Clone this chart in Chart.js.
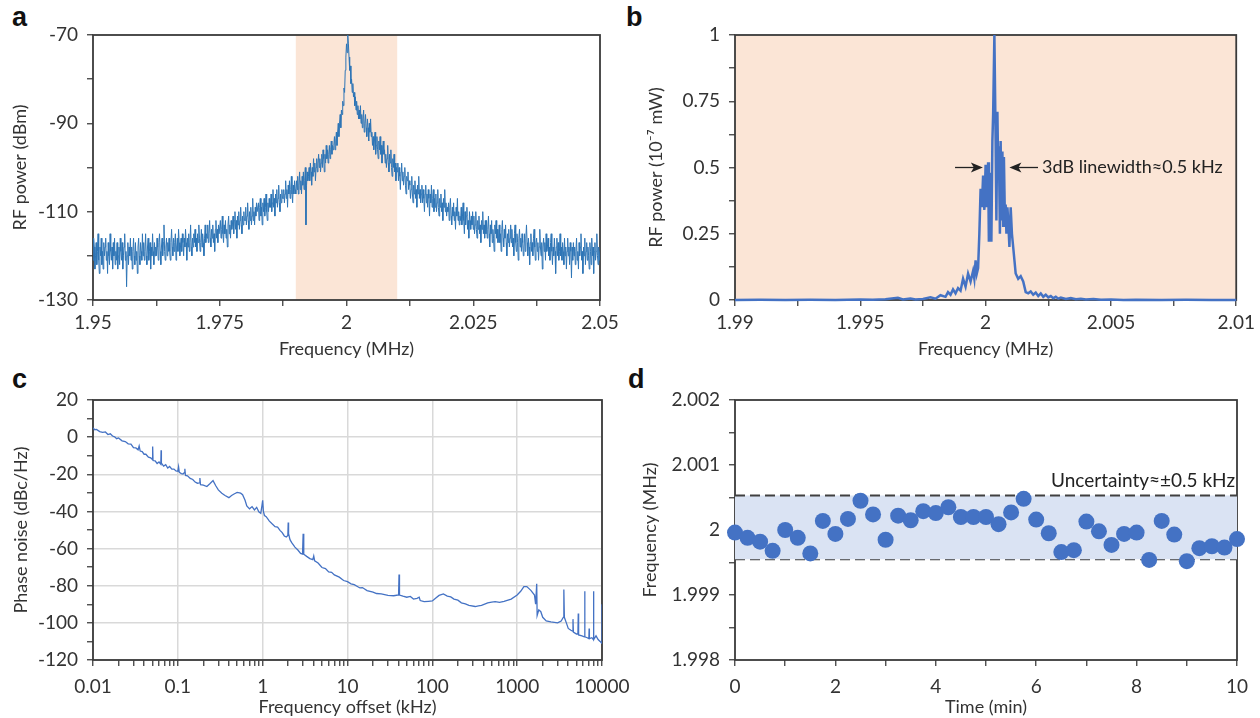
<!DOCTYPE html>
<html>
<head>
<meta charset="utf-8">
<script src="https://cdn.jsdelivr.net/npm/chart.js@4/dist/chart.umd.min.js"></script>
<style>
body{margin:0;background:#fff;width:1260px;height:718px;position:relative;overflow:hidden}
canvas{position:absolute}
.tag{position:absolute;font:bold 27px "Liberation Sans",Arial,sans-serif;line-height:27px;color:#111}
</style>
</head>
<body>
<div class="tag" style="left:12px;top:4px">a</div>
<div class="tag" style="left:626px;top:4px">b</div>
<div class="tag" style="left:12px;top:366px">c</div>
<div class="tag" style="left:628px;top:366px">d</div>
<canvas id="chartA" width="640" height="360" style="left:0;top:0"></canvas>
<canvas id="chartB" width="640" height="360" style="left:620px;top:0"></canvas>
<canvas id="chartC" width="640" height="358" style="left:0;top:360px"></canvas>
<canvas id="chartD" width="640" height="358" style="left:620px;top:360px"></canvas>
<script>
// ---- panel a : RF spectrum in dBm, 1.95 - 2.05 MHz, one point every 0.125 kHz
var freqAStart = 1.95, freqAStep = 0.000125;
var powerA = [
 -121,-116,-118,-123,-120,-117,-122,-119,-115,-121,-124,-118,-120,-116,-122,-119,-123,-117,-120,-118,
 -116,-121,-119,-124,-117,-120,-122,-115,-119,-121,-118,-123,-117,-120,-116,-122,-119,-121,-117,-123,
 -120,-118,-122,-116,-119,-121,-117,-123,-120,-118,-115,-121,-119,-127,-120,-117,-122,-118,-120,-116,
 -121,-118,-123,-119,-116,-120,-122,-117,-121,-119,-124,-118,-116,-120,-122,-117,-119,-121,-115,-120,
 -117,-121,-119,-115,-120,-122,-118,-116,-121,-119,-117,-123,-118,-120,-115,-119,-122,-117,-120,-118,
 -120,-116,-118,-121,-117,-115,-119,-122,-118,-116,-120,-117,-113,-119,-121,-118,-116,-120,-117,-119,
 -116,-119,-121,-117,-114,-118,-120,-116,-119,-117,-115,-121,-118,-116,-119,-114,-117,-120,-118,-116,
 -119,-115,-117,-120,-116,-118,-114,-117,-121,-116,-118,-115,-119,-117,-113,-118,-120,-116,-118,-115,
 -117,-114,-118,-116,-119,-115,-117,-113,-116,-119,-117,-114,-118,-115,-117,-120,-116,-113,-117,-115,
 -116,-113,-117,-115,-112,-116,-118,-114,-116,-113,-117,-115,-119,-114,-112,-116,-114,-117,-113,-115,
 -115,-112,-116,-114,-111,-115,-117,-113,-115,-112,-116,-114,-118,-113,-111,-115,-113,-116,-112,-114,
 -113,-111,-115,-112,-110,-114,-112,-116,-111,-113,-110,-114,-112,-109,-113,-115,-111,-113,-110,-112,
 -112,-109,-113,-111,-108,-112,-114,-110,-112,-109,-113,-111,-107,-112,-110,-113,-109,-111,-108,-110,
 -110,-108,-112,-109,-107,-111,-109,-113,-108,-110,-107,-111,-109,-106,-110,-112,-108,-110,-107,-109,
 -109,-106,-110,-108,-105,-109,-107,-111,-106,-108,-105,-109,-107,-104,-108,-110,-106,-108,-105,-107,
 -107,-105,-108,-106,-103,-107,-105,-109,-104,-106,-103,-107,-105,-102,-106,-108,-104,-106,-103,-105,
 -106,-103,-105,-102,-106,-104,-101,-105,-103,-106,-102,-104,-101,-105,-103,-100,-113,-104,-101,-103,
 -102,-100,-103,-99,-101,-104,-100,-102,-98,-101,-99,-103,-100,-98,-101,-99,-97,-100,-98,-101,
 -99,-97,-100,-96,-98,-101,-97,-99,-95,-98,-96,-99,-97,-95,-98,-96,-94,-97,-95,-96,
 -95,-93,-96,-94,-92,-95,-92,-90,-93,-90,-88,-91,-87,-88,-85,-86,-82,-83,-78,-75,
 -72,-74,-70,-72,-75,-78,-77,-81,-80,-83,-81,-84,-83,-86,-84,-87,-85,-88,-86,-89,
 -87,-89,-86,-90,-88,-91,-89,-87,-92,-90,-88,-91,-93,-89,-91,-94,-90,-92,-89,-93,
 -92,-95,-93,-96,-94,-92,-97,-95,-93,-96,-98,-94,-96,-93,-97,-95,-99,-96,-94,-97,
 -96,-99,-97,-100,-98,-95,-99,-101,-97,-99,-96,-100,-102,-98,-100,-97,-101,-99,-103,-100,
 -101,-99,-103,-100,-102,-105,-101,-99,-103,-101,-104,-102,-100,-104,-106,-102,-103,-101,-105,-103,
 -104,-107,-105,-102,-106,-108,-104,-106,-103,-107,-105,-109,-104,-106,-102,-107,-105,-108,-106,-104,
 -108,-105,-107,-110,-106,-104,-108,-106,-109,-105,-107,-111,-106,-108,-104,-109,-107,-105,-110,-107,
 -109,-106,-110,-108,-105,-109,-111,-107,-109,-106,-110,-108,-112,-107,-109,-105,-110,-108,-111,-109,
 -110,-108,-112,-109,-107,-111,-113,-109,-111,-108,-112,-110,-114,-109,-111,-107,-112,-110,-113,-111,
 -112,-109,-113,-111,-108,-112,-115,-110,-113,-111,-109,-114,-112,-116,-110,-112,-114,-111,-113,-110,
 -114,-111,-115,-113,-110,-114,-116,-112,-114,-111,-115,-113,-117,-112,-114,-110,-115,-113,-116,-112,
 -115,-112,-116,-114,-111,-115,-118,-113,-115,-112,-117,-114,-116,-119,-113,-115,-112,-116,-114,-117,
 -116,-113,-117,-115,-119,-114,-112,-116,-118,-114,-116,-113,-117,-120,-115,-117,-114,-118,-116,-113,
 -117,-114,-118,-116,-120,-115,-113,-117,-119,-115,-117,-121,-116,-114,-118,-116,-119,-115,-117,-120,
 -118,-115,-119,-116,-113,-117,-120,-116,-118,-122,-117,-115,-119,-117,-120,-116,-114,-118,-121,-117,
 -116,-119,-117,-121,-118,-114,-118,-120,-117,-123,-118,-116,-119,-117,-121,-115,-119,-118,-116,-120,
 -118,-121,-117,-115,-119,-122,-118,-120,-116,-119,-124,-118,-116,-120,-117,-121,-119,-115,-120,-118,
 -121,-117,-119,-122,-116,-120,-118,-123,-119,-116,-120,-118,-122,-117,-119,-125,-118,-121,-117,-120,
 -118,-122,-119,-116,-121,-119,-123,-117,-120,-118,-115,-121,-119,-124,-118,-120,-116,-122,-119,-117,
 -121,-118,-120,-123,-117,-119,-122,-116,-120,-118,-124,-119,-117,-121,-119,-115,-120,-122,-118,-121,
 -119
];
var bandA = [1.99, 2.01];
var aXTicks = [1.95, 1.9625, 1.975, 1.9875, 2, 2.0125, 2.025, 2.0375, 2.05];
var aXLabels = ['1.95', '', '1.975', '', '2', '', '2.025', '', '2.05'];
var aYTicks = [-130, -120, -110, -100, -90, -80, -70];
var aYLabels = ['-130', '', '-110', '', '-90', '', '-70'];

// ---- panel b : linear RF power (1e-7 mW), [frequency MHz, power]
var spectrumB = [
 [1.99,0],[1.991,0.001],[1.992,0],[1.993,0.001],[1.994,0],[1.995,0.002],[1.9955,0.001],[1.996,0.003],
 [1.9965,0.008],[1.9967,0.002],[1.997,0.006],[1.9972,0.002],[1.9975,0.004],[1.9978,0.01],[1.998,0.005],
 [1.9982,0.018],[1.9984,0.012],[1.9985,0.03],[1.9986,0.02],[1.9987,0.04],[1.9988,0.025],[1.9989,0.045],
 [1.999,0.035],[1.9991,0.08],[1.9992,0.05],[1.9993,0.1],[1.9994,0.07],[1.9995,0.11],[1.99955,0.08],
 [1.9996,0.15],[1.99965,0.1],[1.9997,0.12],[1.99975,0.25],[1.9998,0.42],[1.99985,0.35],[1.9999,0.47],
 [1.99995,0.34],[2.0,0.51],[2.00005,0.35],[2.0001,0.52],[2.00013,0.22],[2.00017,0.48],[2.0002,0.35],
 [2.00023,0.22],[2.00027,0.6],[2.0003,0.7],[2.00035,1.0],[2.0004,0.6],[2.00043,0.3],[2.00047,0.71],
 [2.0005,0.5],[2.00053,0.58],[2.00057,0.25],[2.0006,0.6],[2.00063,0.3],[2.00067,0.56],[2.0007,0.28],
 [2.00073,0.54],[2.00077,0.3],[2.0008,0.36],[2.00083,0.25],[2.00087,0.35],[2.0009,0.3],[2.00095,0.2],
 [2.001,0.35],[2.00105,0.25],[2.0011,0.2],[2.0012,0.1],[2.0013,0.08],[2.0014,0.09],[2.0015,0.07],
 [2.0016,0.03],[2.0017,0.025],[2.0018,0.032],[2.0019,0.02],[2.002,0.028],[2.0021,0.015],[2.0022,0.025],
 [2.0023,0.012],[2.0024,0.02],[2.0025,0.01],[2.0026,0.015],[2.0027,0.007],[2.0028,0.012],[2.0029,0.005],
 [2.003,0.009],[2.0032,0.004],[2.0034,0.007],[2.0036,0.003],[2.0038,0.005],[2.004,0.002],[2.0043,0.004],
 [2.0046,0.001],[2.005,0.002],[2.0055,0],[2.006,0.001],[2.007,0],[2.008,0.001],[2.009,0],[2.01,0]
];
var bXTicks = [1.99, 1.9925, 1.995, 1.9975, 2, 2.0025, 2.005, 2.0075, 2.01];
var bXLabels = ['1.99', '', '1.995', '', '2', '', '2.005', '', '2.01'];
var bYTicks = [0, 0.125, 0.25, 0.375, 0.5, 0.625, 0.75, 0.875, 1];
var bYLabels = ['0', '', '0.25', '', '0.5', '', '0.75', '', '1'];
// arrows: [from, to, level]
var bArrows = [[1.99878, 1.99989, 0.5], [2.00209, 2.00095, 0.5]];
var bNote = {text: '3dB linewidth\u22480.5 kHz', x: 2.00225, y: 0.5, align: 'left', size: 18};

// ---- panel c : phase noise, [offset kHz, dBc/Hz]
var phaseNoiseC = [
 [0.01,5],[0.0105,4],[0.011,4.2],[0.012,3],[0.013,2.6],[0.014,2.8],[0.015,1.4],[0.016,1.8],[0.017,0.6],
 [0.018,0.2],[0.019,-0.8],[0.02,-0.4],[0.022,-2],[0.024,-2.4],[0.026,-3.6],[0.028,-3.8],[0.03,-5.6],
 [0.032,-5.8],[0.034,-6.8],[0.035,-4.8],[0.036,-7.5],[0.038,-7.8],[0.04,-9.2],[0.042,-9.2],[0.045,-10.8],
 [0.048,-11.2],[0.05,-12],[0.0505,-5],[0.051,-12.6],[0.054,-12.8],[0.057,-14.2],[0.06,-13.4],[0.063,-14.6],
 [0.0635,-7],[0.064,-14],[0.068,-15.6],[0.072,-14.8],[0.076,-16.6],[0.08,-15.8],[0.085,-17.2],[0.09,-17.2],
 [0.095,-18.2],[0.1,-18.4],[0.102,-16],[0.104,-19],[0.11,-19.6],[0.115,-19.8],[0.12,-19],[0.121,-17],
 [0.123,-20.6],[0.13,-20.8],[0.14,-22.2],[0.15,-22.8],[0.16,-24.2],[0.17,-24.8],[0.18,-24.6],[0.182,-22],
 [0.185,-25.6],[0.2,-25.8],[0.22,-26.6],[0.24,-25],[0.26,-23.4],[0.28,-26.2],[0.3,-28.4],[0.33,-30.2],
 [0.36,-31.4],[0.4,-32.6],[0.43,-31.4],[0.46,-30.6],[0.5,-29.8],[0.55,-30.2],[0.58,-31],[0.62,-34],
 [0.65,-37],[0.7,-38.6],[0.75,-37.4],[0.8,-39.2],[0.85,-37.8],[0.9,-40.2],[0.95,-41],[0.98,-37],[1,-34],
 [1.02,-40],[1.05,-42.2],[1.1,-42.8],[1.2,-45.2],[1.3,-46.8],[1.4,-48.2],[1.5,-48.4],[1.6,-50.2],
 [1.7,-51.4],[1.8,-53.2],[1.9,-53.8],[1.98,-53],[2,-46],[2.02,-52],[2.1,-55.2],[2.2,-56.8],[2.4,-59.2],
 [2.6,-60.8],[2.8,-62.6],[2.95,-63],[3,-52],[3.05,-63],[3.3,-64.2],[3.6,-65.4],[3.9,-66],[4,-64],
 [4.1,-66.6],[4.5,-67.8],[5,-70.2],[5.5,-70.8],[6,-72.6],[6.5,-72.8],[7,-74.2],[8,-75.4],[9,-77.2],
 [10,-77.8],[11,-79],[12,-79.4],[14,-81.2],[15,-81],[17,-82.6],[20,-83.4],[22,-84.2],[25,-84.4],[30,-85.2],
 [35,-85.4],[40,-85],[40.5,-74],[41,-85],[45,-85.6],[50,-86.2],[55,-85.8],[60,-87.2],[66,-86.8],[70,-86.2],
 [72,-88],[80,-88.6],[90,-88.4],[100,-88.2],[110,-86.6],[120,-85.2],[135,-84.4],[150,-85.6],[165,-86],
 [180,-87.2],[200,-87.8],[220,-89.2],[245,-89.8],[270,-90.6],[320,-91.2],[350,-90.8],[380,-90.6],
 [450,-89.2],[500,-88.8],[550,-88.6],[620,-89],[700,-88.4],[850,-87.2],[1000,-85],[1100,-83],[1200,-80.5],
 [1300,-80.5],[1450,-82.5],[1600,-85],[1650,-90],[1700,-79],[1720,-96],[1800,-93],[1900,-94],[2000,-97],
 [2200,-99],[2500,-99.5],[3000,-100],[3300,-99],[3500,-97],[3550,-82],[3600,-97],[3800,-100],[4000,-103],
 [4300,-104],[4500,-104.5],[4550,-98],[4600,-105],[5000,-106],[5200,-106],[5250,-95],[5300,-106.5],
 [5800,-107],[6200,-107.5],[6250,-83],[6300,-107.5],[6700,-108],[7000,-108.5],[7050,-103],[7100,-108.5],
 [7600,-108],[7900,-109],[7950,-83],[8000,-109],[8500,-107],[9000,-109],[9500,-110],[9950,-111],
 [9990,-90],[10000,-111]
];
var cXTicks = [0.01,0.02,0.03,0.04,0.05,0.06,0.07,0.08,0.09,0.1,0.2,0.3,0.4,0.5,0.6,0.7,0.8,0.9,
 1,2,3,4,5,6,7,8,9,10,20,30,40,50,60,70,80,90,100,200,300,400,500,600,700,800,900,
 1000,2000,3000,4000,5000,6000,7000,8000,9000,10000];
var cXMajor = [0.01, 0.1, 1, 10, 100, 1000, 10000];
var cYTicks = [-120,-110,-100,-90,-80,-70,-60,-50,-40,-30,-20,-10,0,10,20];
var cYMajor = [-120,-100,-80,-60,-40,-20,0,20];

// ---- panel d : frequency over time
var timeD = [0,0.25,0.5,0.75,1,1.25,1.5,1.75,2,2.25,2.5,2.75,3,3.25,3.5,3.75,4,4.25,4.5,4.75,5,
 5.25,5.5,5.75,6,6.25,6.5,6.75,7,7.25,7.5,7.75,8,8.25,8.5,8.75,9,9.25,9.5,9.75,10];
var freqD = [1.99996,1.99988,1.99982,1.99968,2.00000,1.99988,1.99964,2.00014,1.99994,2.00017,2.00045,
 2.00024,1.99985,2.00022,2.00015,2.00029,2.00026,2.00035,2.00020,2.00020,2.00020,2.00009,2.00027,
 2.00048,2.00016,1.99995,1.99966,1.99969,2.00013,1.99998,1.99977,1.99994,1.99996,1.99954,2.00014,
 1.99993,1.99952,1.99972,1.99975,1.99973,1.99986];
var bandD = [1.99955, 2.00053];
var dXTicks = [0,1,2,3,4,5,6,7,8,9,10];
var dXLabels = ['0','','2','','4','','6','','8','','10'];
var dYTicks = [1.998,1.9985,1.999,1.9995,2,2.0005,2.001,2.0015,2.002];
var dYLabels = ['1.998','','1.999','','2','','2.001','','2.002'];
var dNote = {text: 'Uncertainty\u2248\u00B10.5 kHz', x: 9.96, y: 2.00075, align: 'right', size: 19};

Chart.defaults.font.family = 'Lato, "Open Sans", sans-serif';
Chart.defaults.color = '#333';
Chart.defaults.animation = false;
Chart.defaults.events = [];
Chart.defaults.plugins.legend.display = false;
Chart.defaults.plugins.tooltip.enabled = false;

function axis(o) {
  var labels = o.labels || o.ticks.map(function (v) { return o.major.indexOf(v) >= 0 ? String(v) : '' });
  return {
    type: o.type || 'linear',
    position: o.pos,
    min: o.ticks[0],
    max: o.ticks[o.ticks.length - 1],
    afterBuildTicks: function (s) { s.ticks = o.ticks.map(function (v) { return {value: v} }) },
    afterFit: function (s) { if (o.pos === 'left') s.width = o.size; else s.height = o.size },
    ticks: {autoSkip: false, maxRotation: 0, minRotation: 0, padding: o.pad, color: '#333', font: {size: 19},
      callback: function (v, i) { return labels[i] }},
    grid: {
      drawOnChartArea: !!o.grid, tickLength: 6, tickWidth: 1.3, tickColor: '#404040', lineWidth: 1.5,
      color: function (c) { return (o.grid && c.tick && o.major.indexOf(c.tick.value) >= 0) ? '#d9d9d9' : 'rgba(0,0,0,0)' }
    },
    border: {display: false},
    title: {display: true, text: o.title, color: '#333', font: {size: 18},
      padding: o.pos === 'left' ? {top: o.tpad, bottom: 0} : {top: 0, bottom: o.tpad}}
  };
}

function arrow(ctx, x1, x2, y) {
  var d = x2 > x1 ? 1 : -1;
  ctx.beginPath(); ctx.moveTo(x1, y); ctx.lineTo(x2 - d * 8, y); ctx.stroke();
  ctx.beginPath(); ctx.moveTo(x2, y); ctx.lineTo(x2 - d * 12, y - 5); ctx.lineTo(x2 - d * 9, y);
  ctx.lineTo(x2 - d * 12, y + 5); ctx.closePath(); ctx.fill();
}

// shaded band + plot box, drawn under the data
var framePlugin = {
  id: 'frame',
  beforeDatasetsDraw: function (chart, args, opts) {
    var ctx = chart.ctx, a = chart.chartArea, x = chart.scales.x;
    ctx.save();
    if (opts.band) {
      var x1 = x.getPixelForValue(opts.band[0]), x2 = x.getPixelForValue(opts.band[1]);
      ctx.fillStyle = '#fbe5d6';
      ctx.fillRect(x1, a.top, x2 - x1, a.bottom - a.top);
    }
    ctx.strokeStyle = '#3a3a3a';
    ctx.lineWidth = 1.8;
    ctx.strokeRect(a.left, a.top, a.right - a.left, a.bottom - a.top);
    ctx.restore();
  }
};

var notePlugin = {
  id: 'notes',
  afterDatasetsDraw: function (chart, args, opts) {
    var ctx = chart.ctx, x = chart.scales.x, y = chart.scales.y;
    ctx.save();
    ctx.fillStyle = '#222'; ctx.strokeStyle = '#222'; ctx.lineWidth = 1.3;
    (opts.arrows || []).forEach(function (r) {
      arrow(ctx, x.getPixelForValue(r[0]), x.getPixelForValue(r[1]), y.getPixelForValue(r[2]));
    });
    (opts.texts || []).forEach(function (t) {
      ctx.font = t.size + 'px Lato, "Open Sans", sans-serif';
      ctx.textAlign = t.align; ctx.textBaseline = 'middle';
      ctx.fillStyle = '#222';
      ctx.fillText(t.text, x.getPixelForValue(t.x), y.getPixelForValue(t.y));
    });
    ctx.restore();
  }
};

// panel a
new Chart(document.getElementById('chartA'), {
  type: 'line',
  data: {datasets: [{
    data: powerA.map(function (v, i) { return {x: freqAStart + i * freqAStep, y: v} }),
    borderColor: '#2e75b6', borderWidth: 1, pointRadius: 0, tension: 0
  }]},
  options: {
    responsive: false,
    layout: {padding: {top: 35, right: 40, bottom: 0, left: 0}},
    scales: {
      x: axis({pos: 'bottom', ticks: aXTicks, labels: aXLabels, size: 60, pad: 5, title: 'Frequency (MHz)', tpad: 0}),
      y: axis({pos: 'left', ticks: aYTicks, labels: aYLabels, size: 93, pad: 9, title: 'RF power (dBm)', tpad: 9})
    },
    plugins: {frame: {band: bandA}}
  },
  plugins: [framePlugin]
});

// panel b
new Chart(document.getElementById('chartB'), {
  type: 'line',
  data: {datasets: [{
    data: spectrumB.map(function (p) { return {x: p[0], y: p[1]} }),
    borderColor: '#4472c4', borderWidth: 2.5, pointRadius: 0, tension: 0, clip: false
  }]},
  options: {
    responsive: false,
    layout: {padding: {top: 35, right: 23, bottom: 0, left: 0}},
    scales: {
      x: axis({pos: 'bottom', ticks: bXTicks, labels: bXLabels, size: 60, pad: 5, title: 'Frequency (MHz)', tpad: 0}),
      y: axis({pos: 'left', ticks: bYTicks, labels: bYLabels, size: 115, pad: 9, title: 'RF power (10\u207B\u2077 mW)', tpad: 25})
    },
    plugins: {frame: {band: [bXTicks[0], bXTicks[bXTicks.length - 1]]}, notes: {arrows: bArrows, texts: [bNote]}}
  },
  plugins: [framePlugin, notePlugin]
});

// panel c
new Chart(document.getElementById('chartC'), {
  type: 'line',
  data: {datasets: [{
    data: phaseNoiseC.map(function (p) { return {x: p[0], y: p[1]} }),
    borderColor: '#4472c4', borderWidth: 1.3, pointRadius: 0, tension: 0
  }]},
  options: {
    responsive: false,
    layout: {padding: {top: 40, right: 38, bottom: 0, left: 0}},
    scales: {
      x: axis({type: 'logarithmic', pos: 'bottom', ticks: cXTicks, major: cXMajor, grid: true, size: 58, pad: 9, title: 'Frequency offset (kHz)', tpad: 0}),
      y: axis({pos: 'left', ticks: cYTicks, major: cYMajor, grid: true, size: 93, pad: 9, title: 'Phase noise (dBc/Hz)', tpad: 10})
    },
    plugins: {frame: {}}
  },
  plugins: [framePlugin]
});

// panel d
new Chart(document.getElementById('chartD'), {
  type: 'scatter',
  data: {datasets: [
    {data: timeD.map(function (t, i) { return {x: t, y: freqD[i]} }),
      backgroundColor: '#4472c4', borderColor: '#4472c4', borderWidth: 0, pointRadius: 8, clip: false},
    {data: [{x: dXTicks[0], y: bandD[1]}, {x: dXTicks[dXTicks.length - 1], y: bandD[1]}], showLine: true,
      borderColor: '#404040', borderWidth: 2, borderDash: [10, 5], pointRadius: 0, fill: 2, backgroundColor: '#dae3f3'},
    {data: [{x: dXTicks[0], y: bandD[0]}, {x: dXTicks[dXTicks.length - 1], y: bandD[0]}], showLine: true,
      borderColor: '#404040', borderWidth: 2, borderDash: [10, 5], pointRadius: 0, fill: false}
  ]},
  options: {
    responsive: false,
    layout: {padding: {top: 40, right: 23, bottom: 0, left: 0}},
    scales: {
      x: axis({pos: 'bottom', ticks: dXTicks, labels: dXLabels, size: 58, pad: 9, title: 'Time (min)', tpad: 0}),
      y: axis({pos: 'left', ticks: dYTicks, labels: dYLabels, size: 115, pad: 9, title: 'Frequency (MHz)', tpad: 19})
    },
    plugins: {frame: {}, notes: {texts: [dNote]}}
  },
  plugins: [framePlugin, notePlugin]
});
</script>
</body>
</html>
